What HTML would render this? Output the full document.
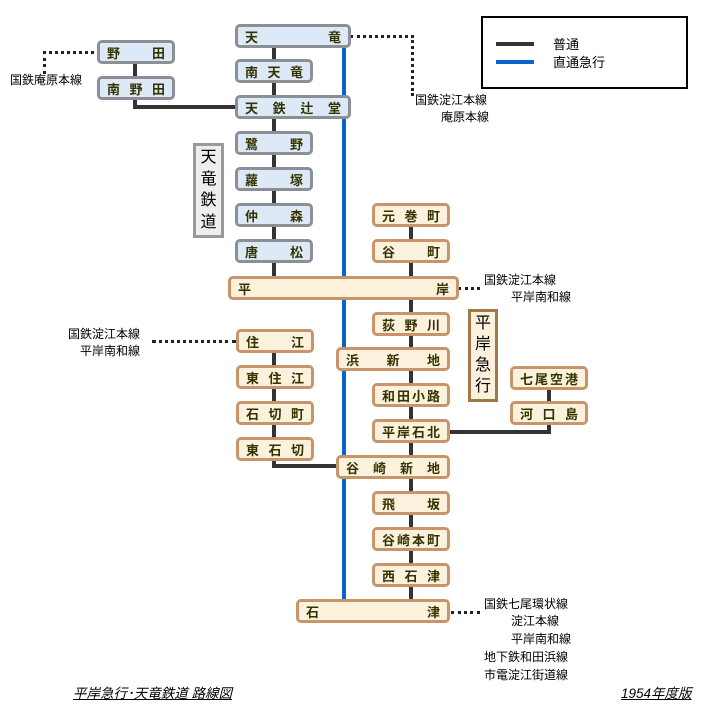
<!DOCTYPE html>
<html><head><meta charset="utf-8"><style>
body{margin:0;width:720px;height:720px;background:#fff;position:relative;overflow:hidden;font-family:"Liberation Sans","Noto Sans CJK JP",sans-serif}
.a{position:absolute}
.s{position:absolute;box-sizing:border-box;height:24px;border-radius:5px;display:flex;justify-content:space-between;align-items:center;padding:0 7px;font-weight:bold;font-size:13px;color:#333300}
.b{background:#dde9f6;border:3px solid #8c9096}
.o{background:#fcf1dd;border:3px solid #c8956a}
.l{position:absolute;background:#333}
.d{position:absolute;border-color:#222;border-style:dotted;border-width:0}
.t{position:absolute;font-size:12px;color:#000;line-height:17px;white-space:nowrap}
.v{position:absolute;box-sizing:border-box;font-size:16px;line-height:20px;display:flex;flex-direction:column;justify-content:space-between;align-items:center;padding:2px 0}
</style></head><body>
<div class="l" style="left:342px;top:36px;width:4px;height:576px;background:#0a63c9"></div>
<div class="l" style="left:272px;top:40px;width:4px;height:238px"></div>
<div class="l" style="left:133px;top:55px;width:4px;height:52px"></div>
<div class="l" style="left:133px;top:105px;width:104px;height:4px"></div>
<div class="l" style="left:409px;top:215px;width:4px;height:397px"></div>
<div class="l" style="left:272px;top:340px;width:4px;height:127px"></div>
<div class="l" style="left:272px;top:464px;width:66px;height:4px"></div>
<div class="l" style="left:547px;top:378px;width:4px;height:56px"></div>
<div class="l" style="left:447px;top:430px;width:104px;height:4px"></div>
<div class="d" style="left:43px;top:51px;width:54px;height:20px;border-top-width:3px;border-left-width:3px"></div>
<div class="d" style="left:350px;top:35px;width:61px;height:58px;border-top-width:3px;border-right-width:3px"></div>
<div class="d" style="left:458px;top:287px;width:22px;border-top-width:3px"></div>
<div class="d" style="left:152px;top:340px;width:84px;border-top-width:3px"></div>
<div class="d" style="left:451px;top:611px;width:29px;border-top-width:3px"></div>
<div class="s b" style="left:235px;top:24px;width:116px"><span>天</span><span>竜</span></div>
<div class="s b" style="left:235px;top:59px;width:78px"><span>南</span><span>天</span><span>竜</span></div>
<div class="s b" style="left:235px;top:95px;width:116px"><span>天</span><span>鉄</span><span>辻</span><span>堂</span></div>
<div class="s b" style="left:235px;top:131px;width:78px"><span>鷺</span><span>野</span></div>
<div class="s b" style="left:235px;top:167px;width:78px"><span>蘿</span><span>塚</span></div>
<div class="s b" style="left:235px;top:203px;width:78px"><span>仲</span><span>森</span></div>
<div class="s b" style="left:235px;top:239px;width:78px"><span>唐</span><span>松</span></div>
<div class="s b" style="left:97px;top:40px;width:78px"><span>野</span><span>田</span></div>
<div class="s b" style="left:97px;top:76px;width:78px"><span>南</span><span>野</span><span>田</span></div>
<div class="s o" style="left:228px;top:276px;width:231px"><span>平</span><span>岸</span></div>
<div class="s o" style="left:372px;top:203px;width:78px"><span>元</span><span>巻</span><span>町</span></div>
<div class="s o" style="left:372px;top:239px;width:78px"><span>谷</span><span>町</span></div>
<div class="s o" style="left:372px;top:312px;width:78px"><span>荻</span><span>野</span><span>川</span></div>
<div class="s o" style="left:336px;top:347px;width:114px"><span>浜</span><span>新</span><span>地</span></div>
<div class="s o" style="left:372px;top:383px;width:78px"><span>和</span><span>田</span><span>小</span><span>路</span></div>
<div class="s o" style="left:372px;top:419px;width:78px"><span>平</span><span>岸</span><span>石</span><span>北</span></div>
<div class="s o" style="left:336px;top:455px;width:114px"><span>谷</span><span>崎</span><span>新</span><span>地</span></div>
<div class="s o" style="left:372px;top:491px;width:78px"><span>飛</span><span>坂</span></div>
<div class="s o" style="left:372px;top:527px;width:78px"><span>谷</span><span>崎</span><span>本</span><span>町</span></div>
<div class="s o" style="left:372px;top:563px;width:78px"><span>西</span><span>石</span><span>津</span></div>
<div class="s o" style="left:296px;top:599px;width:154px"><span>石</span><span>津</span></div>
<div class="s o" style="left:236px;top:329px;width:78px"><span>住</span><span>江</span></div>
<div class="s o" style="left:236px;top:365px;width:78px"><span>東</span><span>住</span><span>江</span></div>
<div class="s o" style="left:236px;top:401px;width:78px"><span>石</span><span>切</span><span>町</span></div>
<div class="s o" style="left:236px;top:437px;width:78px"><span>東</span><span>石</span><span>切</span></div>
<div class="s o" style="left:510px;top:366px;width:78px"><span>七</span><span>尾</span><span>空</span><span>港</span></div>
<div class="s o" style="left:510px;top:401px;width:78px"><span>河</span><span>口</span><span>島</span></div>
<div class="v" style="left:193px;top:143px;width:31px;height:95px;border:3px solid #999;background:#eee"><span>天</span><span>竜</span><span>鉄</span><span>道</span></div>
<div class="v" style="left:468px;top:309px;width:30px;height:93px;border:3px solid #a0784a;background:#fcf1dd"><span>平</span><span>岸</span><span>急</span><span>行</span></div>
<div class="a" style="left:481px;top:16px;width:203px;height:69px;border:2px solid #000"></div>
<div class="a" style="left:496px;top:42px;width:38px;height:4px;background:#333"></div>
<div class="a" style="left:496px;top:60px;width:38px;height:4px;background:#0a63c9"></div>
<div class="t" style="left:553px;top:36px;font-size:13px">普通</div>
<div class="t" style="left:553px;top:54px;font-size:13px">直通急行</div>
<div class="t" style="left:10px;top:72px">国鉄庵原本線</div>
<div class="t" style="left:415px;top:92px">国鉄淀江本線</div>
<div class="t" style="left:441px;top:109px">庵原本線</div>
<div class="t" style="left:484px;top:272px">国鉄淀江本線</div>
<div class="t" style="left:511px;top:289px">平岸南和線</div>
<div class="t" style="left:68px;top:326px">国鉄淀江本線</div>
<div class="t" style="left:80px;top:343px">平岸南和線</div>
<div class="t" style="left:484px;top:596px">国鉄七尾環状線</div>
<div class="t" style="left:511px;top:613px">淀江本線</div>
<div class="t" style="left:511px;top:631px">平岸南和線</div>
<div class="t" style="left:484px;top:649px">地下鉄和田浜線</div>
<div class="t" style="left:484px;top:667px">市電淀江街道線</div>
<div class="t" style="left:73px;top:685px;font-size:13.5px;font-style:italic;text-decoration:underline">平岸急行･天竜鉄道 路線図</div>
<div class="t" style="left:621px;top:685px;font-size:13.5px;font-style:italic;text-decoration:underline">1954年度版</div>
</body></html>
